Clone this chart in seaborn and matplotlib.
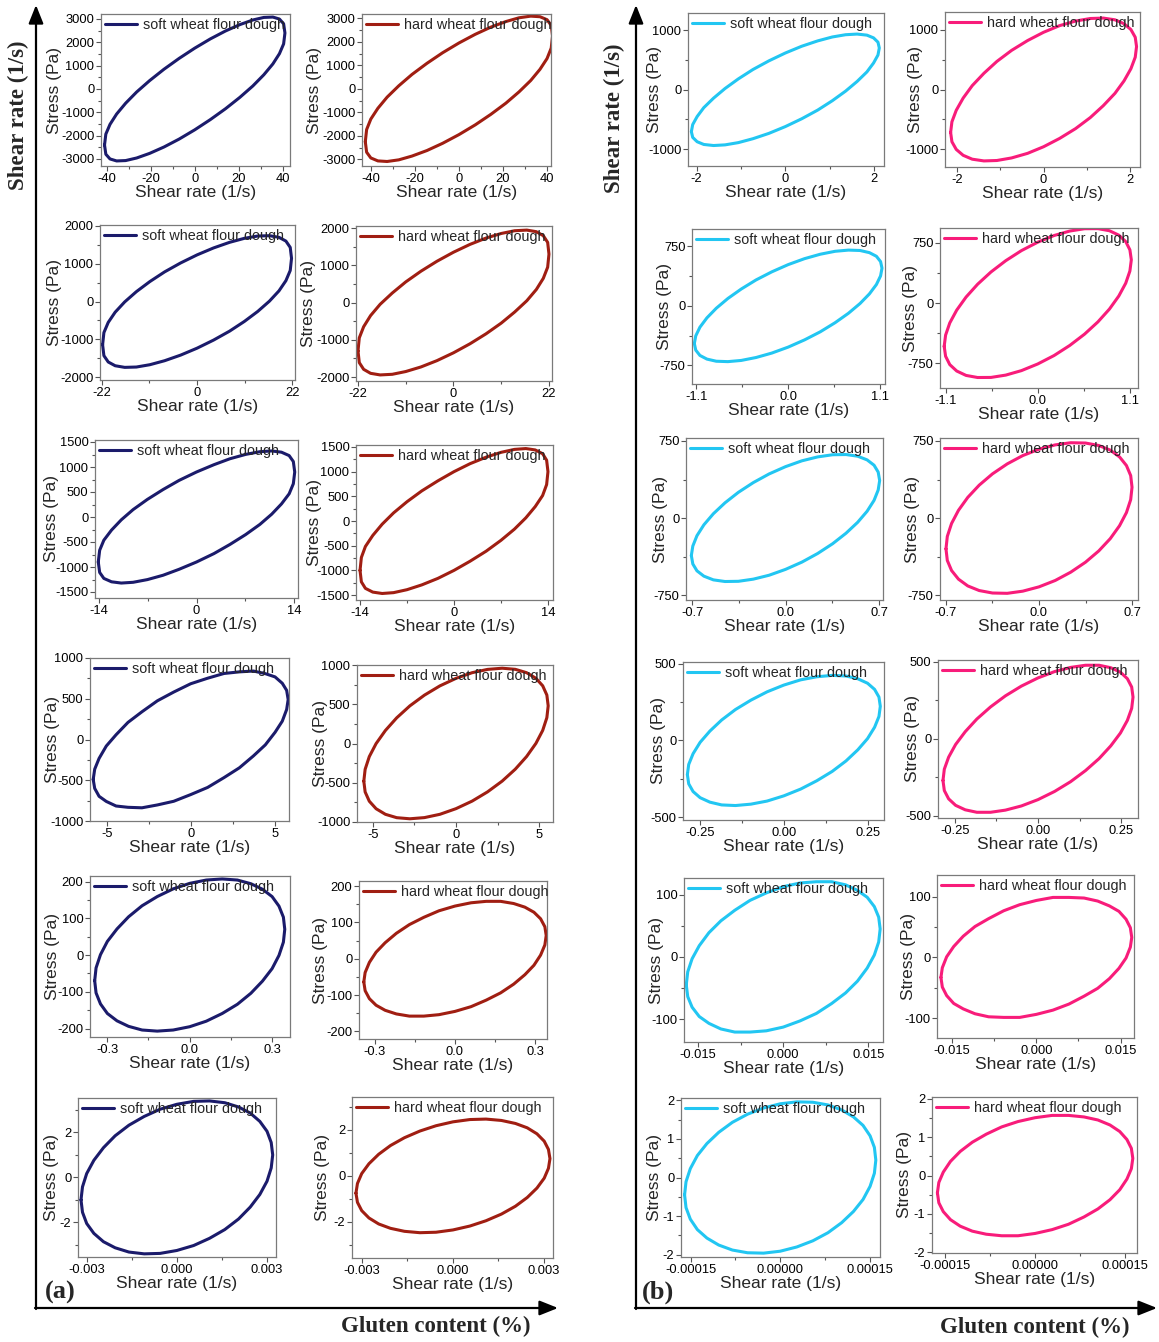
import matplotlib
matplotlib.use("Agg")
import matplotlib.pyplot as plt
import seaborn as sns
import pandas as pd
from matplotlib.ticker import AutoMinorLocator

# ---------------- data (shear rate in 1/s, stress in Pa) ----------------
# each loop: shear-rate samples, upper-branch stress and lower-branch stress
a1_soft_rate = [-41, -40.4, -38.5, -35.5, -31.4, -26.4, -20.5, -14.0, -7.1, 0, 7.1, 14.0, 20.5, 26.4, 31.4, 35.5, 38.5, 40.4, 41]
a1_soft_up = [-2400, -1932, -1514, -1073, -609, -129, 359, 845, 1311, 1750, 2147, 2487, 2759, 2957, 3067, 3083, 2998, 2796, 2400]
a1_soft_lo = [-2400, -2796, -2998, -3083, -3067, -2957, -2759, -2487, -2147, -1750, -1311, -845, -359, 129, 609, 1073, 1514, 1932, 2400]

a1_hard_rate = [-42.5, -41.9, -40.0, -36.8, -32.6, -27.3, -21.3, -14.5, -7.4, 0, 7.4, 14.5, 21.3, 27.3, 32.6, 36.8, 40.0, 41.9, 42.5]
a1_hard_up = [-2250, -1734, -1288, -830, -355, 129, 612, 1086, 1535, 1950, 2319, 2626, 2862, 3023, 3093, 3068, 2942, 2698, 2250]
a1_hard_lo = [-2250, -2698, -2942, -3068, -3093, -3023, -2862, -2626, -2319, -1950, -1535, -1086, -612, -129, 355, 830, 1288, 1734, 2250]

a2_soft_rate = [-21.8, -21.5, -20.5, -18.9, -16.7, -14.0, -10.9, -7.5, -3.8, 0, 3.8, 7.5, 10.9, 14.0, 16.7, 18.9, 20.5, 21.5, 21.8]
a2_soft_up = [-1140, -819, -550, -281, -10, 261, 526, 781, 1017, 1230, 1413, 1561, 1666, 1727, 1736, 1693, 1594, 1427, 1140]
a2_soft_lo = [-1140, -1427, -1594, -1693, -1736, -1727, -1666, -1561, -1413, -1230, -1017, -781, -526, -261, 10, 281, 550, 819, 1140]

a2_hard_rate = [-22, -21.7, -20.7, -19.1, -16.9, -14.1, -11.0, -7.5, -3.8, 0, 3.8, 7.5, 11.0, 14.1, 16.9, 19.1, 20.7, 21.7, 22]
a2_hard_up = [-1300, -948, -650, -351, -48, 255, 553, 840, 1108, 1350, 1560, 1730, 1853, 1927, 1944, 1901, 1794, 1614, 1300]
a2_hard_lo = [-1300, -1614, -1794, -1901, -1944, -1927, -1853, -1730, -1560, -1350, -1108, -840, -553, -255, 48, 351, 650, 948, 1300]

a3_soft_rate = [-14.1, -13.9, -13.3, -12.2, -10.8, -9.1, -7.05, -4.8, -2.5, 0, 2.5, 4.8, 7.05, 9.1, 10.8, 12.2, 13.3, 13.9, 14.1]
a3_soft_up = [-900, -665, -464, -262, -57, 148, 352, 549, 732, 900, 1046, 1165, 1252, 1306, 1321, 1296, 1228, 1109, 900]
a3_soft_lo = [-900, -1109, -1228, -1296, -1321, -1306, -1252, -1165, -1046, -900, -732, -549, -352, -148, 57, 262, 464, 665, 900]

a3_hard_rate = [-14, -13.8, -13.2, -12.1, -10.7, -9.0, -7.0, -4.8, -2.4, 0, 2.4, 4.8, 7.0, 9.0, 10.7, 12.1, 13.2, 13.8, 14]
a3_hard_up = [-1000, -738, -516, -292, -64, 165, 391, 610, 814, 1000, 1162, 1294, 1391, 1451, 1468, 1440, 1364, 1232, 1000]
a3_hard_lo = [-1000, -1232, -1364, -1440, -1468, -1451, -1391, -1294, -1162, -1000, -814, -610, -391, -165, 64, 292, 516, 738, 1000]

a4_soft_rate = [-5.8, -5.71, -5.45, -5.02, -4.44, -3.73, -2.9, -1.98, -1.01, 0, 1.01, 1.98, 2.9, 3.73, 4.44, 5.02, 5.45, 5.71, 5.8]
a4_soft_up = [-490, -364, -232, -80, 58, 210, 340, 475, 582, 684, 752, 810, 830, 840, 808, 768, 690, 603, 490]
a4_soft_lo = [-490, -600, -697, -760, -816, -832, -838, -803, -758, -676, -588, -468, -347, -202, -66, 88, 225, 368, 490]

a4_hard_rate = [-5.55, -5.47, -5.22, -4.81, -4.25, -3.57, -2.78, -1.90, -0.97, 0, 0.97, 1.90, 2.78, 3.57, 4.25, 4.81, 5.22, 5.47, 5.55]
a4_hard_up = [-480, -329, -167, -1, 166, 327, 479, 616, 734, 830, 902, 944, 959, 945, 902, 831, 735, 617, 480]
a4_hard_lo = [-480, -617, -735, -831, -902, -945, -959, -944, -902, -830, -734, -616, -479, -327, -166, 1, 167, 329, 480]

a5_soft_rate = [-0.345, -0.340, -0.324, -0.299, -0.264, -0.222, -0.173, -0.118, -0.060, 0, 0.060, 0.118, 0.173, 0.222, 0.264, 0.299, 0.324, 0.340, 0.345]
a5_soft_up = [-70, -35, 1, 37, 71, 104, 134, 159, 180, 195, 204, 207, 204, 194, 179, 159, 133, 103, 70]
a5_soft_lo = [-70, -103, -133, -159, -179, -194, -204, -207, -204, -195, -180, -159, -134, -104, -71, -37, -1, 35, 70]

a5_hard_rate = [-0.342, -0.337, -0.321, -0.296, -0.262, -0.220, -0.171, -0.117, -0.060, 0, 0.060, 0.117, 0.171, 0.220, 0.262, 0.296, 0.321, 0.337, 0.342]
a5_hard_up = [-64, -38, -10, 18, 44, 70, 94, 114, 132, 145, 154, 158, 158, 152, 142, 128, 110, 88, 64]
a5_hard_lo = [-64, -88, -110, -128, -142, -152, -158, -158, -154, -145, -132, -114, -94, -70, -44, -18, 10, 38, 64]

a6_soft_rate = [-0.0032, -0.00315, -0.00301, -0.00277, -0.00245, -0.00206, -0.0016, -0.00109, -0.00056, 0, 0.00056, 0.00109, 0.0016, 0.00206, 0.00245, 0.00277, 0.00301, 0.00315, 0.0032]
a6_soft_up = [-1.0, -0.42, 0.17, 0.76, 1.32, 1.85, 2.32, 2.71, 3.03, 3.25, 3.38, 3.40, 3.32, 3.13, 2.86, 2.49, 2.05, 1.55, 1.0]
a6_soft_lo = [-1.0, -1.55, -2.05, -2.49, -2.86, -3.13, -3.32, -3.40, -3.38, -3.25, -3.03, -2.71, -2.32, -1.85, -1.32, -0.76, -0.17, 0.42, 1.0]

a6_hard_rate = [-0.0032, -0.00315, -0.00301, -0.00277, -0.00245, -0.00206, -0.0016, -0.00109, -0.00056, 0, 0.00056, 0.00109, 0.0016, 0.00206, 0.00245, 0.00277, 0.00301, 0.00315, 0.0032]
a6_hard_up = [-0.75, -0.33, 0.10, 0.53, 0.94, 1.32, 1.66, 1.95, 2.18, 2.35, 2.45, 2.47, 2.41, 2.28, 2.09, 1.83, 1.51, 1.15, 0.75]
a6_hard_lo = [-0.75, -1.15, -1.51, -1.83, -2.09, -2.28, -2.41, -2.47, -2.45, -2.35, -2.18, -1.95, -1.66, -1.32, -0.94, -0.53, -0.10, 0.33, 0.75]

b1_soft_rate = [-2.12, -2.09, -1.99, -1.84, -1.62, -1.36, -1.06, -0.73, -0.37, 0, 0.37, 0.73, 1.06, 1.36, 1.62, 1.84, 1.99, 2.09, 2.12]
b1_soft_up = [-705, -586, -451, -301, -141, 22, 184, 342, 488, 620, 734, 824, 890, 928, 939, 921, 875, 802, 705]
b1_soft_lo = [-705, -802, -875, -921, -939, -928, -890, -824, -734, -620, -488, -342, -184, -22, 141, 301, 451, 586, 705]

b1_hard_rate = [-2.15, -2.12, -2.02, -1.86, -1.65, -1.38, -1.08, -0.74, -0.37, 0, 0.37, 0.74, 1.08, 1.38, 1.65, 1.86, 2.02, 2.12, 2.15]
b1_hard_up = [-720, -542, -349, -144, 65, 272, 471, 656, 821, 960, 1071, 1148, 1191, 1198, 1169, 1104, 1005, 876, 720]
b1_hard_lo = [-720, -876, -1005, -1104, -1169, -1198, -1191, -1148, -1071, -960, -821, -656, -471, -272, -65, 144, 349, 542, 720]

b2_soft_rate = [-1.125, -1.108, -1.058, -0.974, -0.862, -0.723, -0.563, -0.385, -0.196, 0, 0.196, 0.385, 0.563, 0.723, 0.862, 0.974, 1.058, 1.108, 1.125]
b2_soft_up = [-475, -378, -269, -151, -30, 93, 212, 327, 429, 520, 595, 651, 688, 703, 698, 671, 625, 558, 475]
b2_soft_lo = [-475, -558, -625, -671, -698, -703, -688, -651, -595, -520, -429, -327, -212, -93, 30, 151, 269, 378, 475]

b2_hard_rate = [-1.12, -1.103, -1.053, -0.970, -0.858, -0.720, -0.56, -0.383, -0.195, 0, 0.195, 0.383, 0.56, 0.720, 0.858, 0.970, 1.053, 1.103, 1.12]
b2_hard_up = [-540, -400, -248, -88, 75, 235, 388, 529, 655, 760, 843, 899, 928, 929, 903, 848, 768, 664, 540]
b2_hard_lo = [-540, -664, -768, -848, -903, -929, -928, -899, -843, -760, -655, -529, -388, -235, -75, 88, 248, 400, 540]

b3_soft_rate = [-0.705, -0.694, -0.663, -0.611, -0.540, -0.453, -0.353, -0.241, -0.123, 0, 0.123, 0.241, 0.353, 0.453, 0.540, 0.611, 0.663, 0.694, 0.705]
b3_soft_up = [-365, -273, -172, -66, 42, 148, 250, 345, 429, 500, 557, 595, 616, 618, 602, 566, 514, 447, 365]
b3_soft_lo = [-365, -447, -514, -566, -602, -618, -616, -595, -557, -500, -429, -345, -250, -148, -42, 66, 172, 273, 365]

b3_hard_rate = [-0.7, -0.690, -0.658, -0.606, -0.536, -0.450, -0.35, -0.239, -0.122, 0, 0.122, 0.239, 0.35, 0.450, 0.536, 0.606, 0.658, 0.690, 0.7]
b3_hard_up = [-300, -179, -53, 75, 201, 320, 430, 527, 608, 670, 712, 733, 730, 706, 661, 595, 511, 413, 300]
b3_hard_lo = [-300, -413, -511, -595, -661, -706, -730, -733, -712, -670, -608, -527, -430, -320, -201, -75, 53, 179, 300]

b4_soft_rate = [-0.287, -0.283, -0.270, -0.249, -0.220, -0.185, -0.144, -0.098, -0.050, 0, 0.050, 0.098, 0.144, 0.185, 0.220, 0.249, 0.270, 0.283, 0.287]
b4_soft_up = [-222, -156, -86, -12, 61, 133, 201, 262, 316, 360, 394, 414, 423, 419, 401, 372, 332, 282, 222]
b4_soft_lo = [-222, -282, -332, -372, -401, -419, -423, -414, -394, -360, -316, -262, -201, -133, -61, 12, 86, 156, 222]

b4_hard_rate = [-0.286, -0.282, -0.269, -0.248, -0.219, -0.184, -0.143, -0.098, -0.050, 0, 0.050, 0.098, 0.143, 0.184, 0.219, 0.248, 0.269, 0.282, 0.286]
b4_hard_up = [-270, -197, -119, -37, 46, 128, 206, 278, 341, 394, 435, 462, 476, 476, 460, 431, 389, 335, 270]
b4_hard_lo = [-270, -335, -389, -431, -460, -476, -476, -462, -435, -394, -341, -278, -206, -128, -46, 37, 119, 197, 270]

b5_soft_rate = [-0.0171, -0.01684, -0.01607, -0.01481, -0.01310, -0.01100, -0.00855, -0.00585, -0.00298, 0, 0.00298, 0.00585, 0.00855, 0.01100, 0.01310, 0.01481, 0.01607, 0.01684, 0.0171]
b5_soft_up = [-45, -24, -3, 18, 39, 58, 75, 91, 103, 113, 119, 121, 121, 116, 107, 96, 81, 64, 45]
b5_soft_lo = [-45, -64, -81, -96, -107, -116, -121, -121, -119, -113, -103, -91, -75, -58, -39, -18, 3, 24, 45]

b5_hard_rate = [-0.017, -0.01675, -0.01598, -0.01472, -0.01302, -0.01093, -0.0085, -0.00581, -0.00296, 0, 0.00296, 0.00581, 0.0085, 0.01093, 0.01302, 0.01472, 0.01598, 0.01675, 0.017]
b5_hard_up = [-33, -17, 1, 18, 35, 51, 64, 77, 87, 94, 99, 99, 98, 93, 85, 76, 63, 49, 33]
b5_hard_lo = [-33, -49, -63, -76, -85, -93, -98, -99, -99, -94, -87, -77, -64, -51, -35, -18, -1, 17, 33]

b6_soft_rate = [-0.00016, -0.0001576, -0.0001504, -0.0001386, -0.0001226, -0.0001029, -0.00008, -0.0000547, -0.0000278, 0, 0.0000278, 0.0000547, 0.00008, 0.0001029, 0.0001226, 0.0001386, 0.0001504, 0.0001576, 0.00016]
b6_soft_up = [-0.45, -0.11, 0.23, 0.57, 0.88, 1.17, 1.43, 1.64, 1.80, 1.91, 1.96, 1.95, 1.88, 1.75, 1.57, 1.35, 1.08, 0.78, 0.45]
b6_soft_lo = [-0.45, -0.78, -1.08, -1.35, -1.57, -1.75, -1.88, -1.95, -1.96, -1.91, -1.80, -1.64, -1.43, -1.17, -0.88, -0.57, -0.23, 0.11, 0.45]

b6_hard_rate = [-0.000163, -0.0001606, -0.0001532, -0.0001412, -0.0001249, -0.0001048, -0.0000815, -0.0000557, -0.0000284, 0, 0.0000284, 0.0000557, 0.0000815, 0.0001048, 0.0001249, 0.0001412, 0.0001532, 0.0001606, 0.000163]
b6_hard_up = [-0.45, -0.18, 0.09, 0.37, 0.63, 0.87, 1.08, 1.27, 1.41, 1.51, 1.57, 1.57, 1.53, 1.45, 1.32, 1.15, 0.94, 0.71, 0.45]
b6_hard_lo = [-0.45, -0.71, -0.94, -1.15, -1.32, -1.45, -1.53, -1.57, -1.57, -1.51, -1.41, -1.27, -1.08, -0.87, -0.63, -0.37, -0.09, 0.18, 0.45]

# tick values / labels
xt_a1 = [-40, -20, 0, 20, 40]; xl_a1 = ['-40', '-20', '0', '20', '40']; yt_a1 = [-3000, -2000, -1000, 0, 1000, 2000, 3000]
xt_a2 = [-22, 0, 22]; xl_a2 = ['-22', '0', '22']; yt_a2 = [-2000, -1000, 0, 1000, 2000]
xt_a3 = [-14, 0, 14]; xl_a3 = ['-14', '0', '14']; yt_a3 = [-1500, -1000, -500, 0, 500, 1000, 1500]
xt_a4 = [-5, 0, 5]; xl_a4 = ['-5', '0', '5']; yt_a4 = [-1000, -500, 0, 500, 1000]
xt_a5 = [-0.3, 0, 0.3]; xl_a5 = ['-0.3', '0.0', '0.3']; yt_a5 = [-200, -100, 0, 100, 200]
xt_a6 = [-0.003, 0, 0.003]; xl_a6 = ['-0.003', '0.000', '0.003']; yt_a6 = [-2, 0, 2]
xt_b1 = [-2, 0, 2]; xl_b1 = ['-2', '0', '2']; yt_b1 = [-1000, 0, 1000]
xt_b2 = [-1.1, 0, 1.1]; xl_b2 = ['-1.1', '0.0', '1.1']; yt_b2 = [-750, 0, 750]
xt_b3 = [-0.7, 0, 0.7]; xl_b3 = ['-0.7', '0.0', '0.7']; yt_b3 = [-750, 0, 750]
xt_b4 = [-0.25, 0, 0.25]; xl_b4 = ['-0.25', '0.00', '0.25']; yt_b4 = [-500, 0, 500]
xt_b5 = [-0.015, 0, 0.015]; xl_b5 = ['-0.015', '0.000', '0.015']; yt_b5 = [-100, 0, 100]
xt_b6 = [-0.00015, 0, 0.00015]; xl_b6 = ['-0.00015', '0.00000', '0.00015']; yt_b6 = [-2, -1, 0, 1, 2]

SOFT = 'soft wheat flour dough'
HARD = 'hard wheat flour dough'

# ---------------- style ----------------
sns.set_theme(style="ticks")
plt.rcParams['font.family'] = ['Liberation Sans', 'DejaVu Sans']
plt.rcParams['axes.unicode_minus'] = False

C_SOFT_A = '#1b1b6b'
C_HARD_A = '#a01e12'
C_SOFT_B = '#22c6f2'
C_HARD_B = '#f81c7a'

W, H = 1159, 1342
fig = plt.figure(figsize=(W / 100, H / 100), dpi=100)
fig.patch.set_facecolor('white')

# (box px left, top, right, bottom), ylabel offset px, xlim, ylim, ticks, loop data, colour, label
panels = [
    ((101, 14, 290, 166), -46, (-42.6, 43.3), (-3300, 3214), xt_a1, xl_a1, yt_a1, a1_soft_rate, a1_soft_up, a1_soft_lo, C_SOFT_A, SOFT),
    ((362, 14, 551, 166), -47, (-44, 41.8), (-3285, 3184), xt_a1, xl_a1, yt_a1, a1_hard_rate, a1_hard_up, a1_hard_lo, C_HARD_A, HARD),
    ((100, 225, 295, 380), -46, (-22.4, 22.6), (-2069, 2018), xt_a2, xl_a2, yt_a2, a2_soft_rate, a2_soft_up, a2_soft_lo, C_SOFT_A, SOFT),
    ((356, 226, 552, 381), -48, (-22.46, 22.7), (-2107, 2054), xt_a2, xl_a2, yt_a2, a2_hard_rate, a2_hard_up, a2_hard_lo, C_HARD_A, HARD),
    ((95, 440, 298, 598), -43, (-14.57, 14.57), (-1620, 1540), xt_a3, xl_a3, yt_a3, a3_soft_rate, a3_soft_up, a3_soft_lo, C_SOFT_A, SOFT),
    ((356, 445, 553, 600), -41, (-14.6, 14.75), (-1600, 1540), xt_a3, xl_a3, yt_a3, a3_hard_rate, a3_hard_up, a3_hard_lo, C_HARD_A, HARD),
    ((90, 658, 289, 821), -38, (-5.99, 5.85), (-1000, 1000), xt_a4, xl_a4, yt_a4, a4_soft_rate, a4_soft_up, a4_soft_lo, C_SOFT_A, SOFT),
    ((357, 665, 553, 822), -37, (-5.96, 5.84), (-1000, 1000), xt_a4, xl_a4, yt_a4, a4_hard_rate, a4_hard_up, a4_hard_lo, C_HARD_A, HARD),
    ((90, 876, 290, 1037), -38, (-0.362, 0.364), (-223, 215), xt_a5, xl_a5, yt_a5, a5_soft_rate, a5_soft_up, a5_soft_lo, C_SOFT_A, SOFT),
    ((359, 881, 547, 1039), -39, (-0.36, 0.345), (-221, 214), xt_a5, xl_a5, yt_a5, a5_hard_rate, a5_hard_up, a5_hard_lo, C_HARD_A, HARD),
    ((78, 1098, 276, 1257), -26, (-0.0033, 0.00331), (-3.54, 3.53), xt_a6, xl_a6, yt_a6, a6_soft_rate, a6_soft_up, a6_soft_lo, C_SOFT_A, SOFT),
    ((352, 1097, 553, 1258), -29, (-0.00333, 0.0033), (-3.57, 3.43), xt_a6, xl_a6, yt_a6, a6_hard_rate, a6_hard_up, a6_hard_lo, C_HARD_A, HARD),
    ((688, 13, 884, 166), -33, (-2.196, 2.226), (-1284, 1294), xt_b1, xl_b1, yt_b1, b1_soft_rate, b1_soft_up, b1_soft_lo, C_SOFT_B, SOFT),
    ((945, 12, 1140, 167), -30, (-2.28, 2.23), (-1300, 1300), xt_b1, xl_b1, yt_b1, b1_hard_rate, b1_hard_up, b1_hard_lo, C_HARD_B, HARD),
    ((692, 229, 885, 384), -28, (-1.153, 1.161), (-985, 969), xt_b2, xl_b2, yt_b2, b2_soft_rate, b2_soft_up, b2_soft_lo, C_SOFT_B, SOFT),
    ((940, 228, 1138, 388), -30, (-1.17, 1.2), (-1060, 937), xt_b2, xl_b2, yt_b2, b2_hard_rate, b2_hard_up, b2_hard_lo, C_HARD_B, HARD),
    ((686, 438, 883, 600), -26, (-0.745, 0.73), (-798, 779), xt_b3, xl_b3, yt_b3, b3_soft_rate, b3_soft_up, b3_soft_lo, C_SOFT_B, SOFT),
    ((940, 438, 1138, 600), -27, (-0.745, 0.745), (-798, 779), xt_b3, xl_b3, yt_b3, b3_hard_rate, b3_hard_up, b3_hard_lo, C_HARD_B, HARD),
    ((683, 662, 884, 820), -24, (-0.30, 0.298), (-517, 510), xt_b4, xl_b4, yt_b4, b4_soft_rate, b4_soft_up, b4_soft_lo, C_SOFT_B, SOFT),
    ((938, 660, 1138, 818), -26, (-0.301, 0.301), (-513, 510), xt_b4, xl_b4, yt_b4, b4_hard_rate, b4_hard_up, b4_hard_lo, C_HARD_B, HARD),
    ((684, 878, 883, 1042), -28, (-0.0175, 0.0176), (-137, 127), xt_b5, xl_b5, yt_b5, b5_soft_rate, b5_soft_up, b5_soft_lo, C_SOFT_B, SOFT),
    ((937, 875, 1134, 1038), -28, (-0.0177, 0.0174), (-133, 136), xt_b5, xl_b5, yt_b5, b5_hard_rate, b5_hard_up, b5_hard_lo, C_HARD_B, HARD),
    ((681, 1098, 880, 1257), -27, (-0.000166, 0.000167), (-2.06, 2.06), xt_b6, xl_b6, yt_b6, b6_soft_rate, b6_soft_up, b6_soft_lo, C_SOFT_B, SOFT),
    ((932, 1097, 1137, 1253), -27, (-0.000172, 0.00017), (-2.02, 2.05), xt_b6, xl_b6, yt_b6, b6_hard_rate, b6_hard_up, b6_hard_lo, C_HARD_B, HARD),
]

SPINE = '#7a7a7a'

for box, yoff, xlim, ylim, xt, xl, yt, rate, up, lo, col, lab in panels:
    l, t, r, b = box
    ax = fig.add_axes([l / W, 1 - b / H, (r - l) / W, (b - t) / H])
    xs = list(rate) + list(rate[::-1][1:])
    ys = list(up) + list(lo[::-1][1:])
    df = pd.DataFrame({'rate': xs, 'stress': ys})
    sns.lineplot(data=df, x='rate', y='stress', sort=False, estimator=None,
                 color=col, lw=2.2, ax=ax, label=lab)
    ax.lines[-1].set_solid_joinstyle('round')
    ax.set_xlim(*xlim)
    ax.set_ylim(*ylim)
    ax.set_xticks(xt)
    ax.set_xticklabels(xl)
    ax.set_yticks(yt)
    ax.set_yticklabels([str(v) for v in yt])
    ax.xaxis.set_minor_locator(AutoMinorLocator(2))
    ax.yaxis.set_minor_locator(AutoMinorLocator(2))
    ax.tick_params(which='both', direction='out', color='#555555', labelcolor='black',
                   labelsize=9.3, pad=1.2, width=0.8)
    ax.tick_params(which='major', length=3.5)
    ax.tick_params(which='minor', length=2)
    for s in ax.spines.values():
        s.set_color(SPINE)
        s.set_linewidth(0.9)
        s.set_visible(True)
    ax.set_xlabel('Shear rate (1/s)', fontsize=12.5, labelpad=0)
    ax.set_ylabel('Stress (Pa)', fontsize=12.5, va='center')
    ax.yaxis.set_label_coords(yoff / (r - l), 0.5)
    ax.legend(loc='upper left', frameon=False, fontsize=10.4, handlelength=2.2,
              handletextpad=0.4, borderaxespad=0.1, borderpad=0.2)

# ---------------- overlay: big axes arrows and labels ----------------
ov = fig.add_axes([0, 0, 1, 1])
ov.set_xlim(0, W)
ov.set_ylim(H, 0)
ov.axis('off')
ov.patch.set_visible(False)

arrow_kw = dict(arrowstyle='-|>,head_length=0.8,head_width=0.32', color='black', lw=1.6,
                shrinkA=0, shrinkB=0, mutation_scale=14)
for x0, x1 in [(36, 558), (636, 1157)]:
    ov.annotate('', xy=(x0, 5), xytext=(x0, 1309), xycoords='data', arrowprops=arrow_kw)
    ov.annotate('', xy=(x1, 1308), xytext=(x0 - 1, 1308), xycoords='data', arrowprops=arrow_kw)

serif = ['Liberation Serif', 'DejaVu Serif']
ov.text(18, 115, 'Shear rate (1/s)', rotation=90, ha='center', va='center',
        fontsize=16.5, fontweight='bold', family=serif)
ov.text(614, 118, 'Shear rate (1/s)', rotation=90, ha='center', va='center',
        fontsize=16.5, fontweight='bold', family=serif)
ov.text(436, 1326, 'Gluten content (%)', ha='center', va='center',
        fontsize=16.5, fontweight='bold', family=serif)
ov.text(1035, 1327, 'Gluten content (%)', ha='center', va='center',
        fontsize=16.5, fontweight='bold', family=serif)
ov.text(60, 1292, '(a)', ha='center', va='center', fontsize=19, fontweight='bold', family=serif)
ov.text(658, 1292, '(b)', ha='center', va='center', fontsize=19, fontweight='bold', family=serif)

fig.savefig('out.png', dpi=100, facecolor='white')
